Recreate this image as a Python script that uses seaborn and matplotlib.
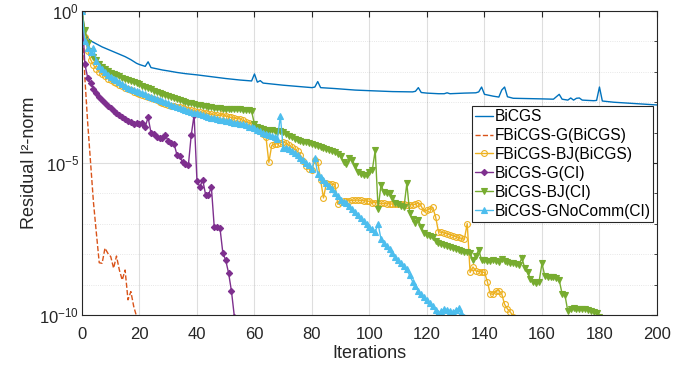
import numpy as np
import pandas as pd
import seaborn as sns
import matplotlib.pyplot as plt
from matplotlib.ticker import FixedLocator, NullFormatter

# residuals, stored as log10 values
bicgs_x = [0, 1, 2, 3, 5, 7, 9, 11, 13, 15, 17, 19, 20, 21, 22, 23, 24, 26, 28, 30,
           33, 36, 40, 45, 50, 55, 59, 60, 61, 62, 63, 66, 70, 75, 80, 81, 82, 83, 88, 95,
           100, 108, 115, 116, 117, 118, 120, 124, 126, 127, 128, 133, 137, 138, 139, 140,
           143, 145, 146, 147, 148, 150, 155, 160, 164, 165, 166, 167, 169, 170, 171, 172,
           173, 174, 178, 179, 180, 181, 185, 190, 195, 200]
bicgs_log = [0, -0.7, -0.88, -0.98, -1.08, -1.18, -1.26, -1.34, -1.42, -1.5, -1.6, -1.72,
             -1.76, -1.79, -1.82, -1.67, -1.86, -1.9, -1.94, -1.97, -2.02, -2.06, -2.1,
             -2.16, -2.22, -2.27, -2.3, -2.07, -2.34, -2.29, -2.37, -2.4, -2.44, -2.48,
             -2.52, -2.5, -2.32, -2.52, -2.55, -2.6, -2.62, -2.65, -2.66, -2.64, -2.52,
             -2.68, -2.7, -2.72, -2.72, -2.69, -2.72, -2.7, -2.69, -2.66, -2.5, -2.74,
             -2.8, -2.83, -2.6, -2.5, -2.82, -2.87, -2.88, -2.89, -2.9, -2.82, -2.74,
             -2.9, -2.93, -2.86, -2.93, -2.87, -2.86, -2.93, -2.95, -2.94, -2.5, -2.96,
             -3.0, -3.03, -3.06, -3.09]

fg_bicgs_log = [0, -2.2, -3.7, -5.0, -6.3, -7.3, -8.28, -8.3, -7.8, -7.97, -8.08, -8.46,
                -8.06, -8.52, -8.85, -8.52, -9.5, -9.23, -9.72, -10.05]

fbj_bicgs_log = [0, -0.84, -1.3, -1.6, -1.78, -1.9, -2.0, -2.08, -2.15, -2.22,
                 -2.28, -2.33, -2.38, -2.43, -2.48, -2.53, -2.57, -2.61, -2.65, -2.69,
                 -2.73, -2.76, -2.8, -2.83, -2.87, -2.9, -2.94, -2.98, -3.02, -3.06,
                 -3.09, -3.11, -3.13, -3.15, -3.17, -3.2, -3.22, -3.24, -3.26, -3.29,
                 -3.31, -3.33, -3.35, -3.36, -3.38, -3.4, -3.42, -3.43, -3.44, -3.36,
                 -3.46, -3.48, -3.5, -3.52, -3.54, -3.55, -3.6, -3.64, -3.68, -3.72,
                 -3.78, -3.85, -3.95, -4.05, -4.15, -4.98, -4.42, -4.38, -4.36, -4.33,
                 -4.3, -4.35, -4.42, -4.48, -4.55, -4.62, -4.75, -4.92, -5.1, -5.2,
                 -5.22, -4.9, -4.96, -5.55, -6.15, -5.67, -5.68, -5.7, -5.72, -6.36,
                 -6.28, -6.26, -6.25, -6.24, -6.23, -6.22, -6.22, -6.23, -6.24, -6.25,
                 -6.26, -6.3, -6.3, -6.32, -6.33, -6.33, -6.34, -6.34, -6.35, -6.35,
                 -6.36, -6.36, -6.36, -6.37, -6.37, -6.37, -6.36, -6.3, -6.42, -6.6,
                 -6.55, -6.5, -6.46, -6.77, -7.26, -7.28, -7.3, -7.33, -7.36, -7.39,
                 -7.42, -7.45, -7.48, -7.51, -6.99, -8.6, -8.42, -8.55, -8.57, -8.58,
                 -8.6, -8.9, -9.3, -9.32, -9.2, -9.2, -9.3, -9.65, -9.8, -9.9,
                 -10.05]

g_ci_log = [0, -1.75, -2.2, -2.38, -2.55, -2.7, -2.83, -2.93, -3.03, -3.12,
            -3.2, -3.28, -3.36, -3.43, -3.5, -3.56, -3.62, -3.66, -3.7, -3.68,
            -3.72, -3.68, -3.8, -3.5, -4.0, -4.06, -4.15, -4.18, -4.17, -4.08,
            -4.28, -4.33, -4.36, -4.72, -4.78, -4.98, -5.02, -5.08, -4.08, -3.42,
            -5.6, -5.78, -5.56, -6.04, -6.06, -5.78, -7.1, -7.12, -7.14, -7.96,
            -8.2, -8.62, -9.22, -10.05]

bj_ci_log = [0, -0.62, -1.05, -1.3, -1.5, -1.62, -1.74, -1.84, -1.92, -1.98,
             -2.03, -2.07, -2.11, -2.15, -2.19, -2.23, -2.27, -2.3, -2.33, -2.37,
             -2.41, -2.45, -2.5, -2.54, -2.58, -2.62, -2.65, -2.68, -2.72, -2.76,
             -2.8, -2.84, -2.87, -2.9, -2.93, -2.96, -2.98, -3.01, -3.04, -3.06,
             -3.08, -3.1, -3.12, -3.14, -3.15, -3.17, -3.18, -3.19, -3.2, -3.21,
             -3.21, -3.21, -3.22, -3.22, -3.23, -3.23, -3.24, -3.25, -3.26, -3.3,
             -3.72, -3.8, -3.85, -3.88, -3.9, -3.95, -3.93, -3.95, -3.98, -3.94,
             -3.97, -4.05, -4.1, -4.15, -4.2, -4.23, -4.26, -4.3, -4.32, -4.35,
             -4.38, -4.42, -4.44, -4.46, -4.5, -4.53, -4.56, -4.6, -4.64, -4.7,
             -4.78, -4.95, -5.02, -4.85, -4.9, -5.1, -5.28, -5.36, -5.38, -5.38,
             -5.3, -5.22, -4.58, -6.5, -5.72, -5.95, -5.98, -6.0, -6.15, -6.3,
             -6.36, -6.42, -6.45, -5.67, -6.66, -6.85, -6.98, -6.88, -7.1, -7.3,
             -7.38, -7.4, -7.42, -7.55, -7.64, -7.68, -7.7, -7.72, -7.75, -7.78,
             -7.82, -7.86, -7.9, -7.92, -7.94, -7.97, -8.19, -8.05, -7.86, -8.19,
             -8.2, -8.21, -8.22, -8.2, -8.22, -8.25, -8.15, -8.22, -8.25, -8.28,
             -8.3, -8.32, -8.35, -8.12, -8.45, -8.6, -8.8, -8.9, -8.96, -8.9,
             -8.3, -8.72, -8.74, -8.75, -8.76, -8.78, -8.85, -9.3, -9.35, -9.88,
             -9.8, -9.78, -9.79, -9.8, -9.8, -9.81, -9.82, -9.86, -9.9, -9.95,
             -10.05]

gnc_ci_log = [0, -1.0, -1.2, -1.35, -1.22, -1.65, -1.8, -1.92, -2.02, -2.1,
              -2.17, -2.22, -2.28, -2.34, -2.4, -2.46, -2.52, -2.56, -2.6, -2.64,
              -2.67, -2.7, -2.74, -2.78, -2.82, -2.86, -2.9, -2.93, -2.97, -3.0,
              -3.04, -3.08, -3.12, -3.16, -3.2, -3.23, -3.26, -3.29, -3.32, -3.35,
              -3.37, -3.4, -3.43, -3.46, -3.49, -3.51, -3.53, -3.55, -3.57, -3.59,
              -3.61, -3.63, -3.65, -3.67, -3.68, -3.7, -3.73, -3.76, -3.8, -3.83,
              -3.86, -3.9, -3.95, -4.0, -4.04, -4.08, -4.12, -4.16, -4.2, -3.45,
              -4.52, -4.5, -4.53, -4.6, -4.67, -4.74, -4.82, -4.9, -5.0, -5.07,
              -5.2, -4.82, -5.36, -5.45, -5.55, -5.67, -5.75, -5.85, -6.0, -6.1,
              -6.2, -6.28, -6.33, -6.42, -6.5, -6.62, -6.72, -6.82, -6.92, -7.02,
              -7.1, -7.18, -7.26, -7.0, -7.5, -7.62, -7.72, -7.82, -7.95, -8.08,
              -8.2, -8.3, -8.4, -8.5, -8.7, -8.9, -9.05, -9.2, -9.32, -9.42,
              -9.52, -9.62, -9.72, -9.82, -9.95, -9.88, -9.8, -9.82, -9.86, -9.9,
              -9.84, -9.78, -9.92, -10.05]

sns.set_style("white")
plt.rcParams['font.family'] = ['Liberation Sans', 'DejaVu Sans']
plt.rcParams['mathtext.default'] = 'regular'

txt = '#262626'
fig = plt.figure(figsize=(6.93, 3.68), dpi=100)
ax = fig.add_axes([0.1183, 0.144, 0.8297, 0.826])

series = [
    ('BiCGS', bicgs_x, bicgs_log, '#0072BD', '-', None, 'full'),
    ('FBiCGS-G(BiCGS)', None, fg_bicgs_log, '#D95319', '--', None, 'full'),
    ('FBiCGS-BJ(BiCGS)', None, fbj_bicgs_log, '#EDB120', '-', 'o', 'none'),
    ('BiCGS-G(CI)', None, g_ci_log, '#7E2F8E', '-', 'D', 'full'),
    ('BiCGS-BJ(CI)', None, bj_ci_log, '#77AC30', '-', 'v', 'full'),
    ('BiCGS-GNoComm(CI)', None, gnc_ci_log, '#4DBEEE', '-', '^', 'full'),
]

for name, xs, ys, col, ls, mk, fill in series:
    if xs is None:
        xs = list(range(len(ys)))
    df = pd.DataFrame({'it': xs, 'res': 10.0 ** np.array(ys)})
    kw = dict(linestyle=ls, linewidth=1.0)
    if mk is not None:
        kw.update(marker=mk, markersize=4.2 if mk != 'D' else 3.2,
                  markeredgewidth=0.8)
        if fill == 'none':
            kw.update(markerfacecolor='none', markeredgecolor=col)
        else:
            kw.update(markerfacecolor=col, markeredgecolor=col)
    sns.lineplot(data=df, x='it', y='res', ax=ax, color=col, label=name,
                 estimator=None, sort=False, **kw)

ax.set_yscale('log')
ax.set_xlim(0, 200)
ax.set_ylim(1e-10, 1)
ax.set_xticks(range(0, 201, 20))
ax.yaxis.set_major_locator(FixedLocator([1e-10, 1e-5, 1]))
ax.yaxis.set_minor_locator(FixedLocator([10.0 ** k for k in range(-10, 1)]))
ax.yaxis.set_minor_formatter(NullFormatter())

ax.grid(True, which='major', color='#262626', alpha=0.15, linewidth=0.8)
ax.grid(True, which='minor', axis='y', color='#262626', alpha=0.15,
        linewidth=0.6, linestyle=':')
for s in ax.spines.values():
    s.set_color(txt)
    s.set_linewidth(0.8)
ax.tick_params(which='both', direction='in', top=True, right=True, colors=txt,
               labelsize=12)
ax.tick_params(which='major', length=4, width=0.8)
ax.tick_params(which='minor', length=2.5, width=0.6)
ax.tick_params(axis='x', pad=8.5)
ax.tick_params(axis='y', pad=2)

ax.set_xlabel('Iterations', fontsize=13, color=txt, labelpad=2)
ax.set_ylabel('Residual l²-norm', fontsize=13, color=txt, labelpad=1)

leg = ax.legend(loc='upper left', bbox_to_anchor=(0.678, 0.6875), borderaxespad=0,
                fontsize=11.2, frameon=True, fancybox=False, framealpha=1,
                edgecolor=txt, handlelength=1.15, handletextpad=0.1,
                labelspacing=0.25, borderpad=0.2)
leg.get_frame().set_linewidth(0.8)
for t in leg.get_texts():
    t.set_color('#000000')

plt.savefig('out.png', dpi=100)
